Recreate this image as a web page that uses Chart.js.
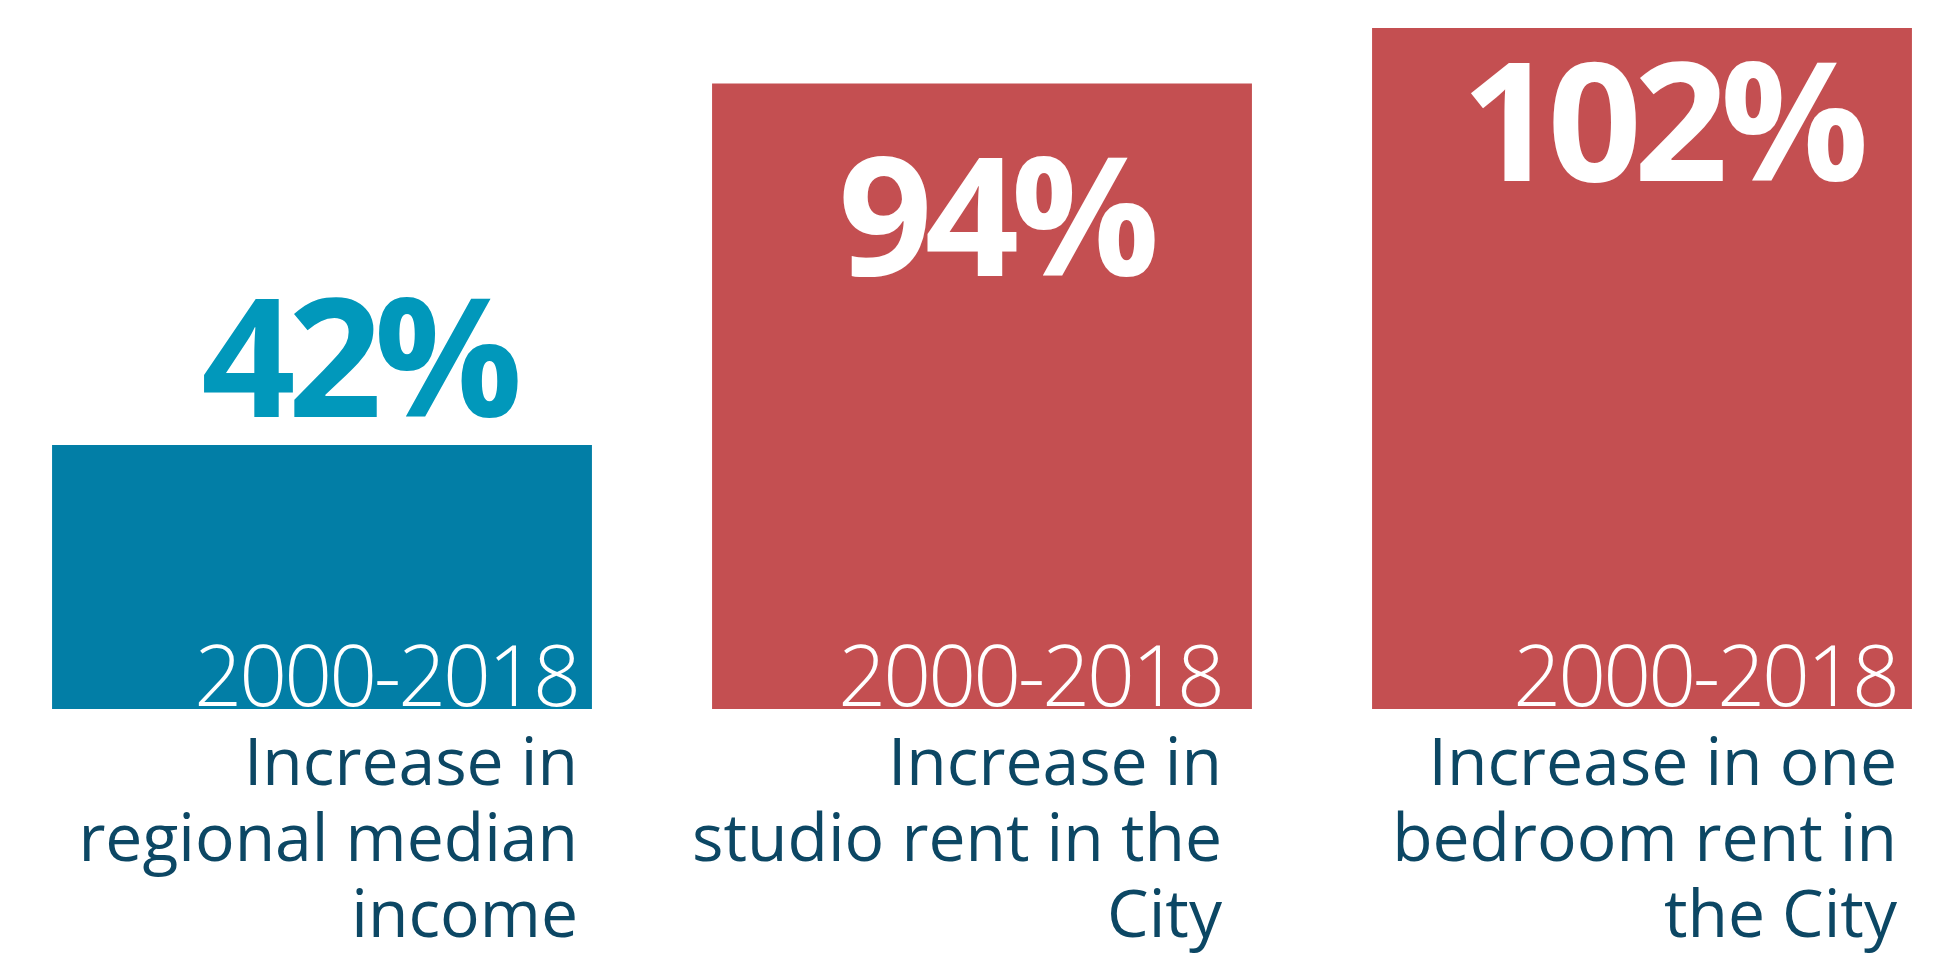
<!DOCTYPE html>
<html>
<head>
<meta charset="utf-8">
<script src="https://cdn.jsdelivr.net/npm/chart.js@4.4.1/dist/chart.umd.min.js"></script>
<style>
  html, body { margin: 0; padding: 0; background: #fff; }
  #wrap { width: 1954px; height: 955px; position: relative; }
</style>
</head>
<body>
<div id="wrap"><canvas id="increaseChart"></canvas></div>
<script>
// Increase 2000-2018: income vs rents
const categories = ['Regional median income', 'Studio rent', 'One bedroom rent'];
const increasePct = [42, 94, 102];
const periodLabels = ['2000-2018', '2000-2018', '2000-2018'];
const captionLines = [
    ['Increase in', 'regional median', 'income'],
    ['Increase in', 'studio rent in the', 'City'],
    ['Increase in one', 'bedroom rent in', 'the City']
];

// hand placement of the texts (relative to the bar's centre / top / right edge)
const pctDx = [36, 13, 19];
const pctDy = [-28, 192, 153];
const textInset = [14, 30, 15];

const barTexts = {
    id: 'barTexts',
    afterDatasetsDraw(chart) {
        const ctx = chart.ctx;
        const bottom = chart.chartArea.bottom;
        const bars = chart.getDatasetMeta(0).data;
        ctx.save();
        ctx.textBaseline = 'alphabetic';
        bars.forEach((bar, i) => {
            const right = bar.x + bar.width / 2 - textInset[i];

            ctx.font = '700 165px "Open Sans"';
            ctx.letterSpacing = '-8px';
            ctx.textAlign = 'center';
            ctx.fillStyle = i === 0 ? '#0198bb' : '#ffffff';
            ctx.fillText(increasePct[i] + '%', bar.x + pctDx[i], bar.y + pctDy[i]);

            ctx.font = '300 84px "Open Sans"';
            ctx.letterSpacing = '-3px';
            ctx.textAlign = 'right';
            ctx.fillStyle = '#ffffff';
            ctx.fillText(periodLabels[i], right, bottom - 3);

            ctx.font = '400 66px "Open Sans"';
            ctx.letterSpacing = '0px';
            ctx.fillStyle = '#0c4764';
            captionLines[i].forEach((line, j) => {
                ctx.fillText(line, right, bottom + 76 * (j + 1));
            });
        });
        ctx.restore();
    }
};

const ctx = document.getElementById('increaseChart').getContext('2d');
const increaseChart = new Chart(ctx, {
    type: 'bar',
    data: {
        labels: categories,
        datasets: [{
            data: increasePct,
            backgroundColor: ['#027ea6', '#c44f51', '#c44f51'],
            borderWidth: 0,
            categoryPercentage: 1,
            barPercentage: 0.818,
            // bars may spill sideways out of the plot area, but not below it
            clip: { left: false, right: false, top: false, bottom: 0 }
        }]
    },
    options: {
        responsive: true,
        maintainAspectRatio: false,
        animation: false,
        layout: {
            padding: { left: 322, right: 312, top: 28, bottom: 246 }
        },
        plugins: {
            legend: { display: false },
            tooltip: { enabled: false }
        },
        scales: {
            x: { display: false, offset: false },
            y: { display: false, min: 4, max: 102 }
        }
    },
    plugins: [barTexts]
});
</script>
</body>
</html>
